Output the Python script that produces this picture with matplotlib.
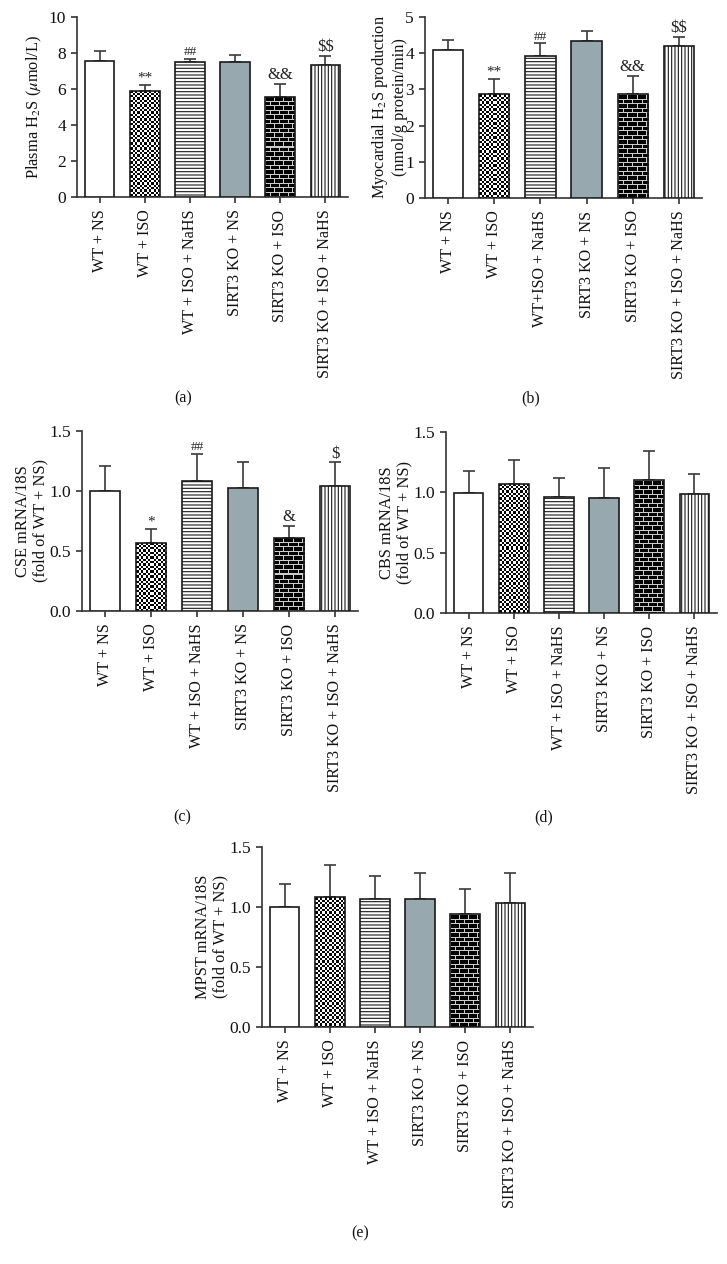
import numpy as np
import matplotlib
matplotlib.use("Agg")
import matplotlib.pyplot as plt

plt.rcParams['font.family'] = ['Liberation Serif', 'DejaVu Serif']
plt.rcParams['mathtext.fontset'] = 'stix'
plt.rcParams['hatch.linewidth'] = 0.8

# ---------------- data ----------------
groups = ['WT + NS', 'WT + ISO', 'WT + ISO + NaHS',
          'SIRT3 KO + NS', 'SIRT3 KO + ISO', 'SIRT3 KO + ISO + NaHS']
groups_b = ['WT + NS', 'WT + ISO', 'WT+ISO + NaHS',
            'SIRT3 KO + NS', 'SIRT3 KO + ISO', 'SIRT3 KO + ISO + NaHS']

h2s_plasma = [7.56, 5.90, 7.49, 7.49, 5.56, 7.32]
h2s_plasma_err = [0.54, 0.33, 0.18, 0.42, 0.72, 0.52]
h2s_plasma_sig = ['', '**', '##', '', '&&', '$$']

h2s_myo = [4.08, 2.87, 3.93, 4.33, 2.87, 4.21]
h2s_myo_err = [0.29, 0.41, 0.34, 0.27, 0.50, 0.25]
h2s_myo_sig = ['', '**', '##', '', '&&', '$$']

cse = [1.00, 0.57, 1.08, 1.025, 0.61, 1.04]
cse_err = [0.21, 0.11, 0.23, 0.215, 0.10, 0.20]
cse_sig = ['', '*', '##', '', '&', '$']

cbs = [0.995, 1.07, 0.96, 0.95, 1.10, 0.99]
cbs_err = [0.185, 0.20, 0.16, 0.25, 0.24, 0.16]

mpst = [1.00, 1.08, 1.07, 1.07, 0.94, 1.03]
mpst_err = [0.19, 0.27, 0.19, 0.21, 0.21, 0.25]

# bar styles: white, checker, horizontal lines, grey, brick, vertical lines
styles = ['white', 'checker', 'hlines', 'grey', 'brick', 'vlines']

FW, FH = 727, 1264
EDGE = '#1a1a1a'
ERRC = '#3a3a3a'


def make_texture(kind, wpx, hpx):
    yy, xx = np.mgrid[0:hpx, 0:wpx]
    if kind == 'checker':
        c = 2.33
        arr = ((np.floor(xx / c) + np.floor(yy / c)) % 2).astype(float)
    else:
        rh, bw = 4.5, 9.0
        r = np.floor(yy / rh)
        arr = np.zeros((hpx, wpx))
        arr[(yy % rh) < 1.0] = 0.8
        arr[((xx + (r % 2) * bw / 2) % bw) < 1.0] = 0.8
    return arr


def panel(box, vals, errs, labels, ylim, yticks, fmt, ylabel, ylab_x, sig=None,
          sig_sizes=None):
    left, right, top, bottom = box
    ax = fig.add_axes([left / FW, 1 - bottom / FH, (right - left) / FW,
                       (bottom - top) / FH])
    x = np.arange(len(vals))
    xlim = (-0.5, len(vals) - 0.5)
    w = 0.66
    px_x = (right - left) / (xlim[1] - xlim[0])
    px_y = (bottom - top) / (ylim[1] - ylim[0])
    for i, (v, st) in enumerate(zip(vals, styles)):
        if st == 'white':
            ax.bar(x[i], v, w, color='white', edgecolor=EDGE, lw=1.2, zorder=3)
        elif st == 'grey':
            ax.bar(x[i], v, w, color='#98a8af', edgecolor=EDGE, lw=1.2, zorder=3)
        elif st == 'hlines':
            ax.bar(x[i], v, w, color='white', edgecolor=EDGE, lw=1.2,
                   hatch='-----', zorder=3)
        elif st == 'vlines':
            ax.bar(x[i], v, w, color='white', edgecolor=EDGE, lw=1.2,
                   hatch='|||||', zorder=3)
        else:
            b = ax.bar(x[i], v, w, color='none', edgecolor=EDGE, lw=1.2, zorder=4)
            arr = make_texture(st, max(int(round(w * px_x)), 2),
                               max(int(round(v * px_y)), 2))
            im = ax.imshow(arr, cmap='gray', vmin=0, vmax=1, aspect='auto',
                           interpolation='nearest', zorder=3,
                           extent=(x[i] - w / 2, x[i] + w / 2, 0, v))
            im.set_clip_path(b.patches[0])
    ax.errorbar(x, vals, yerr=[np.zeros(len(vals)), errs], fmt='none',
                ecolor=ERRC, elinewidth=1.2, capsize=4, capthick=1.2, zorder=2)
    if sig is not None:
        for i, s in enumerate(sig):
            if s:
                fs = sig_sizes.get(s, 11)
                ax.annotate(s.replace('$', r'\$'), (x[i], vals[i] + errs[i]),
                            xytext=(0, 0.5),
                            textcoords='offset points', ha='center', va='bottom',
                            fontsize=fs, color='#222222')
    ax.set_xlim(*xlim)
    ax.set_ylim(*ylim)
    ax.set_yticks(yticks)
    ax.set_yticklabels([fmt.format(t) for t in yticks])
    ax.set_xticks(x)
    ax.set_xticklabels(labels, rotation=90, va='top', ha='center')
    for s in ['top', 'right']:
        ax.spines[s].set_visible(False)
    for s in ['left', 'bottom']:
        ax.spines[s].set_color('#333333')
        ax.spines[s].set_linewidth(1.2)
    ax.tick_params(axis='both', colors='#333333', labelcolor='#111111',
                   width=1.2, length=4)
    ax.tick_params(axis='x', pad=5, labelsize=11.6)
    ax.tick_params(axis='y', pad=4, labelsize=12.5)
    fig.text(ylab_x / FW, 1 - (top + bottom) / 2 / FH, ylabel, rotation=90,
             ha='center', va='center', fontsize=11.8, color='#111111',
             multialignment='center', linespacing=1.1)
    return ax


fig = plt.figure(figsize=(FW / 100, FH / 100), dpi=100)

sizes = {'**': 11, '##': 9.5, '&&': 12, '$$': 12, '*': 11, '&': 12, '$': 12}

panel((77, 348, 17, 197), h2s_plasma, h2s_plasma_err, groups, (0, 10),
      [0, 2, 4, 6, 8, 10], '{:g}', r'Plasma H$_2$S ($\mu$mol/L)', 34,
      h2s_plasma_sig, sizes)
panel((425, 702, 17, 198), h2s_myo, h2s_myo_err, groups_b, (0, 5),
      [0, 1, 2, 3, 4, 5], '{:g}',
      'Myocardial H$_2$S production\n(nmol/g protein/min)', 389,
      h2s_myo_sig, sizes)
panel((82, 358, 431, 611), cse, cse_err, groups, (0, 1.5),
      [0, 0.5, 1.0, 1.5], '{:.1f}', 'CSE mRNA/18S\n(fold of WT + NS)', 32,
      cse_sig, sizes)
panel((446, 717, 432, 613), cbs, cbs_err, groups, (0, 1.5),
      [0, 0.5, 1.0, 1.5], '{:.1f}', 'CBS mRNA/18S\n(fold of WT + NS)', 396)
panel((262, 533, 847, 1027), mpst, mpst_err, groups, (0, 1.5),
      [0, 0.5, 1.0, 1.5], '{:.1f}', 'MPST mRNA/18S\n(fold of WT + NS)', 212)

for lab, cx, cy in [('(a)', 183, 398), ('(b)', 531, 398), ('(c)', 182, 817),
                    ('(d)', 544, 817), ('(e)', 360, 1233)]:
    fig.text(cx / FW, 1 - cy / FH, lab, ha='center', va='center', fontsize=11.5,
             color='#111111')

fig.savefig('out.png', dpi=100)
